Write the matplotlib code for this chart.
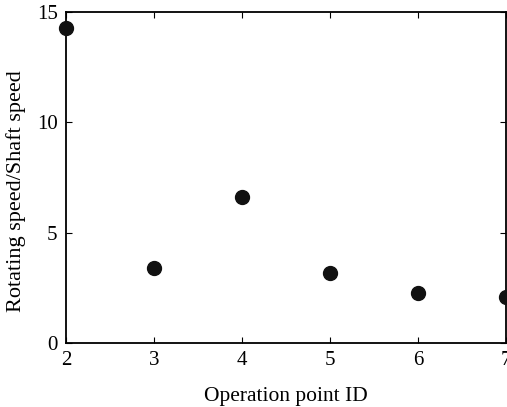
import numpy as np
import matplotlib
matplotlib.use('Agg')
import matplotlib.pyplot as plt

# operation points and speed ratio
op_id = [2, 3, 4, 5, 6, 7]
speed_ratio = [14.27, 3.40, 6.62, 3.17, 2.27, 2.08]

plt.rcParams['font.family'] = ['Liberation Serif', 'DejaVu Serif']

fig = plt.figure(figsize=(5.07, 4.07), dpi=100)
ax = fig.add_axes([66/507, 1 - 343/407, 440/507, 331/407])

ax.plot(op_id, speed_ratio, 'o', color='#111111', markersize=10, clip_on=False, zorder=3)

ax.set_xlim(2, 7)
ax.set_ylim(0, 15)
ax.set_xticks([2, 3, 4, 5, 6, 7])
ax.set_yticks([0, 5, 10, 15])
ax.tick_params(direction='in', top=True, right=True, labelsize=15, length=4, pad=6)
for s in ax.spines.values():
    s.set_linewidth(1.3)

ax.set_xlabel('Operation point ID', fontsize=15.5, labelpad=12)
ax.set_ylabel('Rotating speed/Shaft speed', fontsize=16)
ax.yaxis.set_label_coords(-0.092, 0.46)

fig.savefig('out.png', dpi=100)
